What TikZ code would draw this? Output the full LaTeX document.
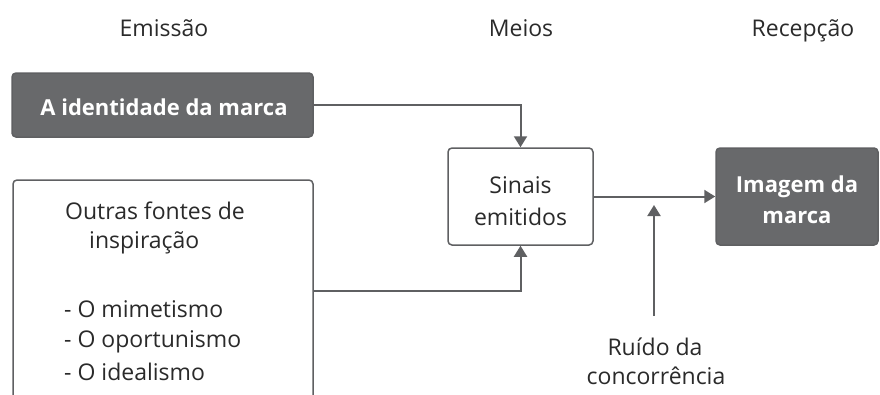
\documentclass[tikz,border=0pt]{standalone}
\usepackage{fontspec}
\setmainfont{Open Sans}
\usetikzlibrary{arrows.meta}
\definecolor{boxgray}{HTML}{68696B}
\definecolor{linegray}{HTML}{5F6062}
\definecolor{textgray}{HTML}{2A2A2A}
\begin{document}
\begin{tikzpicture}[x=1pt,y=-1pt,
  every node/.style={font=\fontsize{23}{32}\selectfont, text=textgray, inner sep=0pt},
  lbl/.style={anchor=base},
  lbll/.style={anchor=base west},
  wlbl/.style={anchor=base, text=white, font=\fontsize{22}{32}\selectfont\bfseries},
  darkbox/.style={draw=linegray, fill=boxgray, line width=1.5pt, rounded corners=4pt},
  lightbox/.style={draw=linegray, fill=white, line width=1.5pt, rounded corners=4pt},
  conn/.style={draw=linegray, line width=2pt, -{Triangle[length=11pt,width=13pt]}}]
\useasboundingbox (0,0) rectangle (880,394);
\clip (0,0) rectangle (880,394);

% column headings
\node[lbl] (emis) at (164,36) {Emissão};
\node[lbl] (meios) at (521,36) {Meios};
\node[lbl] (recep) at (803,36) {Recepção};

% boxes
\node[darkbox, minimum width=301pt, minimum height=64pt] (ident) at (162.5,105) {};
\node[lightbox, minimum width=300pt, minimum height=240pt] (outras) at (163,300) {};
\node[lightbox, minimum width=145pt, minimum height=97pt] (sinais) at (520.5,196.5) {};
\node[darkbox, minimum width=162pt, minimum height=97pt] (imagem) at (797,196.5) {};

% box texts
\node[wlbl] (identtxt) at (164,115) {A identidade da marca};
\node[lbl] (sin1) at (520.5,193) {Sinais};
\node[lbl] (sin2) at (520.5,225) {emitidos};
\node[wlbl] (img1) at (797,192) {Imagem da};
\node[wlbl] (img2) at (797,223) {marca};

% text inside the open box
\node[lbll] (out1) at (65,219) {Outras fontes de};
\node[lbll] (out2) at (89,248) {inspiração};
\node[lbll] (out3) at (64,317) {- O mimetismo};
\node[lbll] (out4) at (64,347) {- O oportunismo};
\node[lbll] (out5) at (64,380) {- O idealismo};

% noise label
\node[lbl] (ruido1) at (655,355) {Ruído da};
\node[lbl] (ruido2) at (656,384) {concorrência};

% connectors
\coordinate (ofrom) at (313,291);
\coordinate (nfrom) at (654,316);
\coordinate (ntip) at (654,205);
\draw[conn] (ident.east) -| (sinais.north);
\draw[conn] (ofrom) -| (sinais.south);
\draw[conn] (sinais.east) -- (imagem.west);
\draw[conn] (nfrom) -- (ntip);
\end{tikzpicture}
\end{document}
